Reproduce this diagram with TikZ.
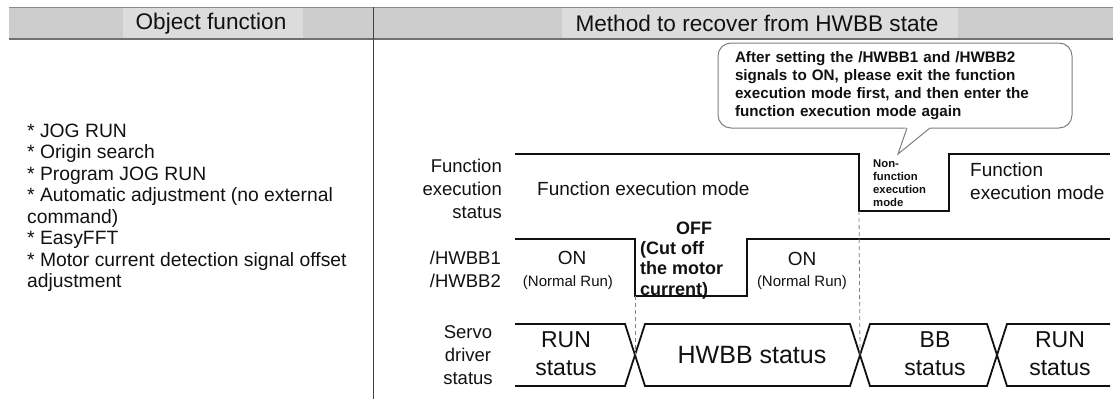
\documentclass[tikz,border=0pt]{standalone}
\usepackage{fontspec}
\setmainfont{Liberation Sans}
\newcommand\fsz[2]{\fontsize{#1}{#2}\selectfont}
\definecolor{hdrgray}{HTML}{CDCDCD}
\definecolor{hdrlight}{HTML}{DCDCDC}
\definecolor{rulegray}{HTML}{8C8C8C}
\definecolor{notegray}{HTML}{7F7F7F}
\definecolor{ink}{HTML}{111111}
\begin{document}
\begin{tikzpicture}[x=1pt,y=-1pt,
  every node/.style={inner sep=0pt, text=ink},
  hdrtext/.style={font=\fsz{22.6}{27}},
  lbl/.style={font=\fsz{18.5}{23}},
  big/.style={font=\fsz{19}{23}},
  state/.style={font=\fsz{23}{28}, align=center},
  sig/.style={line width=1.8pt, ink},
  dsh/.style={dash pattern=on 4pt off 3pt, line width=0.8pt, gray},
  notebox/.style={draw=notegray, line width=1pt, fill=white, rounded corners=13pt,
     minimum width=354pt, minimum height=85pt, text width=320pt, align=left,
     font=\bfseries\fsz{15.2}{18}}]
\useasboundingbox (0,0) rectangle (1113,399);

% header band
\fill[hdrgray] (9,7) rectangle (1113,39);
\fill[hdrlight] (123,8) rectangle (303,38);
\fill[hdrlight] (562,8) rectangle (958,38);
\draw[rulegray, line width=1pt] (9,7) -- (1113,7);
\draw[rulegray!80!black, line width=1.2pt] (9,39) -- (1113,39);
\node[hdrtext] (h1) at (211,23.5) {Object function};
\node[hdrtext] (h2) at (757,23.5) {Method to recover from HWBB state};
\draw[ink!80, line width=0.8pt] (373,7) -- (373,399);

% left column
\node[anchor=west, align=left, font=\fsz{19.3}{21.5}] (list) at (27,208)
 {* JOG RUN\\* Origin search\\* Program JOG RUN\\* Automatic adjustment (no external\\command)\\* EasyFFT\\* Motor current detection signal offset\\adjustment};

% callout
\node[notebox] (note) at (895,85.5)
 {After setting the /HWBB1 and /HWBB2\\signals to ON, please exit the function\\execution mode first, and then enter the\\function execution mode again};
\coordinate (tailA) at (907,128);
\coordinate (tailB) at (930,128);
\coordinate (tip) at (898,154);
\fill[white] (906,127) -- (931,127) -- (tip) -- cycle;
\draw[notegray, line width=1pt] (tailA) -- (tip) -- (tailB);

% row labels
\node[lbl, anchor=east, align=right] (lfe) at (502,189) {Function\\execution\\status};
\node[lbl, anchor=east, align=left] (lhw) at (501,269.5) {/HWBB1\\/HWBB2};
\node[lbl, align=center] (lsv) at (468,355) {Servo\\driver\\status};

% function execution status signal
\coordinate (fe0) at (515,154);
\coordinate (fe1) at (859,154);
\coordinate (fe2) at (859,211);
\coordinate (fe3) at (949,211);
\coordinate (fe4) at (949,154);
\coordinate (fe5) at (1110,154);
\draw[sig] (fe0) -- (fe1) -- (fe2) -- (fe3) -- (fe4) -- (fe5);
\node[big, anchor=west] (fem1) at (537,189) {Function execution mode};
\node[anchor=west, align=left, font=\bfseries\fsz{11.3}{13}] (nfem) at (873,183.5) {Non-\\function\\execution\\mode};
\node[big, anchor=west, align=left] (fem2) at (970,181.5) {Function\\execution mode};

% HWBB signal
\coordinate (hw0) at (515,239);
\coordinate (hw1) at (635,239);
\coordinate (hw2) at (635,296);
\coordinate (hw3) at (747,296);
\coordinate (hw4) at (747,239);
\coordinate (hw5) at (1110,239);
\draw[sig] (hw0) -- (hw1) -- (hw2) -- (hw3) -- (hw4) -- (hw5);
\node[font=\fsz{19}{23}] (on1) at (572,258) {ON};
\node[font=\fsz{15}{18}] (nr1) at (568,283) {(Normal Run)};
\node[font=\fsz{19}{23}] (on2) at (802,259) {ON};
\node[font=\fsz{15}{18}] (nr2) at (802,283) {(Normal Run)};
\node[font=\bfseries\fsz{18}{20.5}] (off) at (694,228) {OFF};
\node[anchor=west, align=left, font=\bfseries\fsz{18}{20.5}] (cut) at (640,270) {(Cut off\\the motor\\current)};

% servo driver status bus
\draw[sig] (515,324) -- (625,324) -- (645,386) -- (850,386) -- (870,324) -- (987,324) -- (1007,386) -- (1110,386);
\draw[sig] (515,386) -- (625,386) -- (645,324) -- (850,324) -- (870,386) -- (987,386) -- (1007,324) -- (1110,324);
\coordinate (x1) at (635,355);
\coordinate (x2) at (860,355);
\node[state] (s1) at (566,354) {RUN\\status};
\node[font=\fsz{25}{28}] (s2) at (752,355) {HWBB status};
\node[state] (s3) at (935,354) {BB\\status};
\node[state] (s4) at (1060,354) {RUN\\status};

% dashed guides
\draw[dsh] (hw2) -- (x1);
\draw[dsh] (fe2) -- (x2);
\end{tikzpicture}
\end{document}
